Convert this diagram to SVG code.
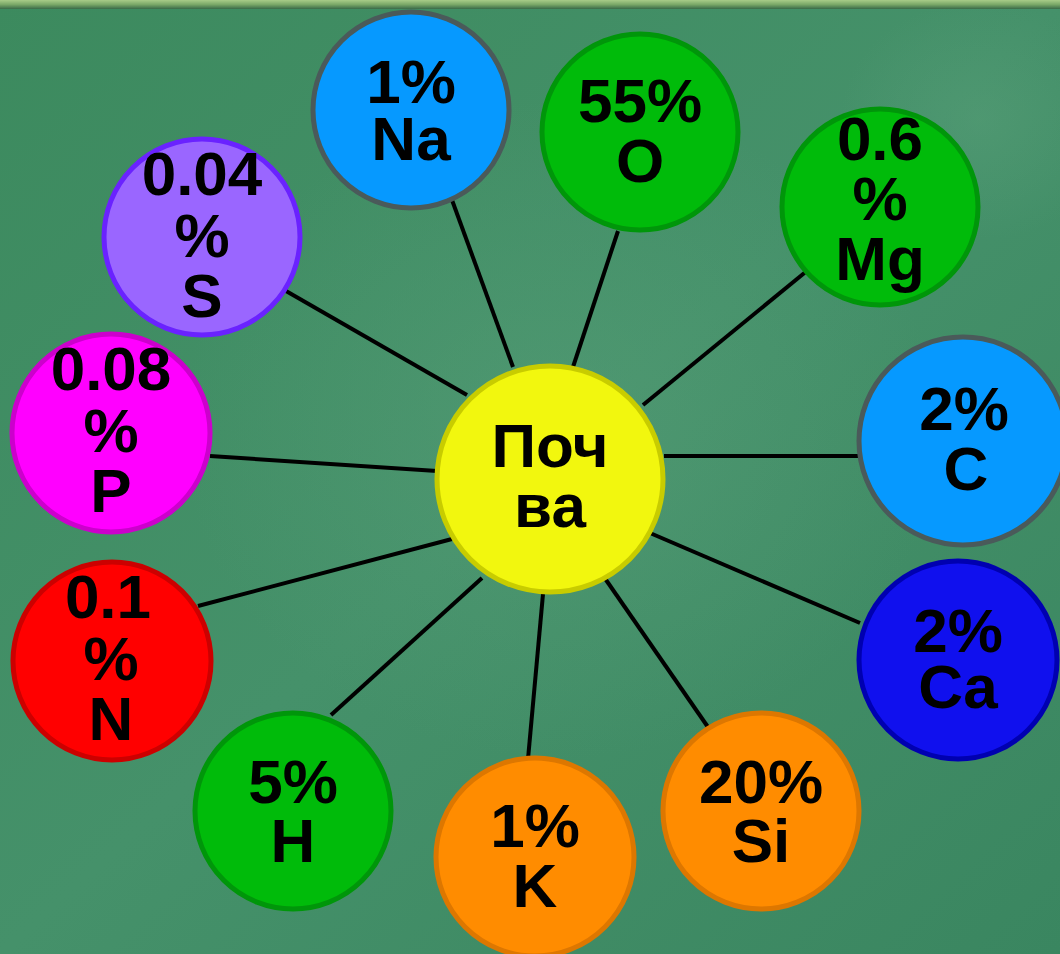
<svg xmlns="http://www.w3.org/2000/svg" width="1060" height="954" viewBox="0 0 1060 954">
<defs>
<linearGradient id="bg" x1="0" y1="0" x2="1" y2="1">
<stop offset="0" stop-color="#3c8a5e"/>
<stop offset="0.5" stop-color="#45916a"/>
<stop offset="1" stop-color="#3a8660"/>
</linearGradient>
<radialGradient id="glow" cx="0.5" cy="0.5" r="0.5">
<stop offset="0" stop-color="#5aa07a" stop-opacity="0.45"/>
<stop offset="1" stop-color="#5aa07a" stop-opacity="0"/>
</radialGradient>
<linearGradient id="top" x1="0" y1="0" x2="0" y2="1">
<stop offset="0" stop-color="#a8cc88"/>
<stop offset="0.5" stop-color="#7aa868"/>
<stop offset="1" stop-color="#3a6a48"/>
</linearGradient>
</defs>
<style>
.n{stroke-width:5}
.t{font-family:"Liberation Sans",Arial,sans-serif;font-weight:bold;font-size:62px;fill:#000;text-anchor:middle}
.c line{stroke:#000;stroke-width:4}
</style>
<rect width="1060" height="954" fill="url(#bg)"/>
<ellipse cx="560" cy="430" rx="380" ry="330" fill="url(#glow)"/>
<ellipse cx="980" cy="120" rx="140" ry="120" fill="url(#glow)"/>
<rect width="1060" height="9" fill="url(#top)"/>
<g class="c" id="connectors">
<line x1="286" y1="291" x2="467" y2="395"/>
<line x1="452" y1="200" x2="513" y2="367"/>
<line x1="618" y1="231" x2="573" y2="367"/>
<line x1="808" y1="270" x2="643" y2="405"/>
<line x1="664" y1="456" x2="860" y2="456"/>
<line x1="650" y1="533" x2="860" y2="623"/>
<line x1="604" y1="577" x2="710" y2="730"/>
<line x1="543" y1="594" x2="528" y2="759"/>
<line x1="482" y1="578" x2="331" y2="715"/>
<line x1="198" y1="606" x2="452" y2="539"/>
<line x1="210" y1="456" x2="437" y2="471"/>
</g>
<g id="soil"><circle class="n" cx="550" cy="479" r="113" fill="#f2f70e" stroke="#c8cc00"/>
<text class="t" x="550" y="467">Поч</text><text class="t" x="550" y="527">ва</text></g>
<g id="na"><circle class="n" cx="411" cy="110" r="98" fill="#0699ff" stroke="#4a5a5a"/>
<text class="t" x="411" y="103">1%</text><text class="t" x="411" y="160">Na</text></g>
<g id="o"><circle class="n" cx="640" cy="132" r="98" fill="#00bb0a" stroke="#00960a"/>
<text class="t" x="640" y="122">55%</text><text class="t" x="640" y="182">O</text></g>
<g id="mg"><circle class="n" cx="880" cy="207" r="98" fill="#00bb0a" stroke="#00960a"/>
<text class="t" x="880" y="160">0.6</text><text class="t" x="880" y="220">%</text><text class="t" x="880" y="280">Mg</text></g>
<g id="s"><circle class="n" cx="202" cy="237" r="98" fill="#9a66ff" stroke="#6a22ff"/>
<text class="t" x="202" y="195">0.04</text><text class="t" x="202" y="257">%</text><text class="t" x="202" y="317">S</text></g>
<g id="c"><circle class="n" cx="963" cy="441" r="104" fill="#0699ff" stroke="#4a5a5a"/>
<text class="t" x="964" y="430">2%</text><text class="t" x="966" y="490">C</text></g>
<g id="p"><circle class="n" cx="111" cy="433" r="99" fill="#ff00ff" stroke="#cc00cc"/>
<text class="t" x="111" y="390">0.08</text><text class="t" x="111" y="452">%</text><text class="t" x="111" y="512">P</text></g>
<g id="ca"><circle class="n" cx="958" cy="660" r="99" fill="#1010ee" stroke="#0000b0"/>
<text class="t" x="958" y="652">2%</text><text class="t" x="958" y="708">Ca</text></g>
<g id="n"><circle class="n" cx="112" cy="661" r="99" fill="#ff0000" stroke="#cc0000"/>
<text class="t" x="108" y="618">0.1</text><text class="t" x="111" y="680">%</text><text class="t" x="111" y="740">N</text></g>
<g id="h"><circle class="n" cx="293" cy="811" r="98" fill="#00bb0a" stroke="#00960a"/>
<text class="t" x="293" y="803">5%</text><text class="t" x="293" y="862">H</text></g>
<g id="k"><circle class="n" cx="535" cy="857" r="99" fill="#ff8c00" stroke="#dd7700"/>
<text class="t" x="535" y="847">1%</text><text class="t" x="535" y="907">K</text></g>
<g id="si"><circle class="n" cx="761" cy="811" r="98" fill="#ff8c00" stroke="#dd7700"/>
<text class="t" x="761" y="803">20%</text><text class="t" x="761" y="862">Si</text></g>
</svg>
